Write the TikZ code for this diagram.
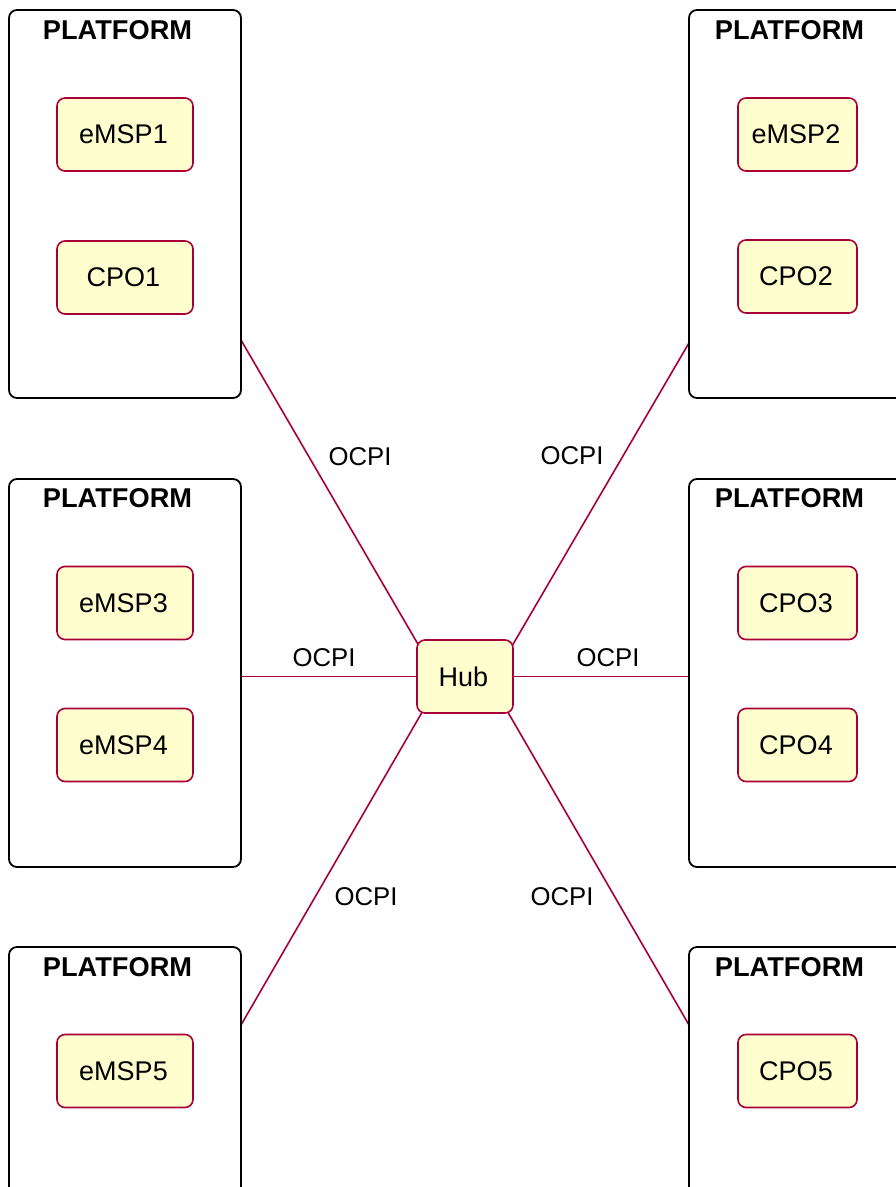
\documentclass[tikz,border=0pt]{standalone}
\usepackage{fontspec}
\setmainfont{Liberation Sans}
\usetikzlibrary{calc,backgrounds}
\definecolor{umlred}{HTML}{A80036}
\definecolor{umlfill}{HTML}{FEFECE}
\begin{document}
\begin{tikzpicture}[x=1pt,y=-1pt,
  platform/.style={draw=black, line width=1.8pt, rounded corners=8pt, minimum width=232pt, minimum height=388pt, inner sep=0pt, outer sep=0pt, anchor=north west},
  ptitle/.style={font=\fontsize{27.2}{32}\selectfont\bfseries, inner sep=0pt},
  comp/.style={draw=umlred, fill=umlfill, line width=1.6pt, rounded corners=8pt, minimum height=73pt, inner sep=0pt, outer sep=0pt, font=\fontsize{27}{32}\selectfont, execute at begin node={\hspace*{-3pt}}},
  lcomp/.style={comp, minimum width=136pt},
  rcomp/.style={comp, minimum width=119pt},
  conn/.style={draw=umlred, line width=1.6pt},
  lbl/.style={font=\fontsize{25.7}{30}\selectfont, inner sep=0pt}]
\useasboundingbox (0,0) rectangle (896,1187);
\clip (0,0) rectangle (896,1187);

% platforms
\node[platform] (p1) at (9,10) {};
\node[platform] (p2) at (689,10) {};
\node[platform] (p3) at (9,479) {};
\node[platform] (p4) at (689,479) {};
\node[platform] (p5) at (9,947) {};
\node[platform] (p6) at (689,947) {};

\node[ptitle] (t1) at (117.5,30.5) {PLATFORM};
\node[ptitle] (t2) at (789.5,30.5) {PLATFORM};
\node[ptitle] (t3) at (117.5,498.5) {PLATFORM};
\node[ptitle] (t4) at (789.5,498.5) {PLATFORM};
\node[ptitle] (t5) at (117.5,967.5) {PLATFORM};
\node[ptitle] (t6) at (789.5,967.5) {PLATFORM};

% components
\node[lcomp] (emsp1) at (125,134.5) {eMSP1};
\node[lcomp] (cpo1) at (125,277.5) {CPO1};
\node[rcomp] (emsp2) at (797.5,134.5) {eMSP2};
\node[rcomp] (cpo2) at (797.5,276.5) {CPO2};
\node[lcomp] (emsp3) at (125,603) {eMSP3};
\node[lcomp] (emsp4) at (125,745) {eMSP4};
\node[rcomp] (cpo3) at (797.5,603) {CPO3};
\node[rcomp] (cpo4) at (797.5,745) {CPO4};
\node[lcomp] (emsp5) at (125,1071) {eMSP5};
\node[rcomp] (cpo5) at (797.5,1071) {CPO5};

\node[comp, minimum width=96pt] (hub) at (465,676.5) {Hub};

% connectors
\begin{scope}[on background layer]
  \draw[conn] ($(p1.north east)!0.8505!(p1.south east)$) -- ([shift={(16,30)}]hub.north west);
  \draw[conn] ($(p2.north west)!0.858!(p2.south west)$) -- ([shift={(-15,30)}]hub.north east);
  \draw[conn] (hub.center) -- (hub.center -| p3.east);
  \draw[conn] (hub.center) -- (hub.center -| p4.west);
  \draw[conn] ($(p5.north east)!0.201!(p5.south east)$) -- ([shift={(22,-30)}]hub.south west);
  \draw[conn] ($(p6.north west)!0.201!(p6.south west)$) -- ([shift={(-22,-30)}]hub.south east);
\end{scope}

% labels
\node[lbl] (l1) at (360,457) {OCPI};
\node[lbl] (l2) at (572,456) {OCPI};
\node[lbl] (l3) at (324,658) {OCPI};
\node[lbl] (l4) at (608,658) {OCPI};
\node[lbl] (l5) at (366,897) {OCPI};
\node[lbl] (l6) at (562,897) {OCPI};
\end{tikzpicture}
\end{document}
